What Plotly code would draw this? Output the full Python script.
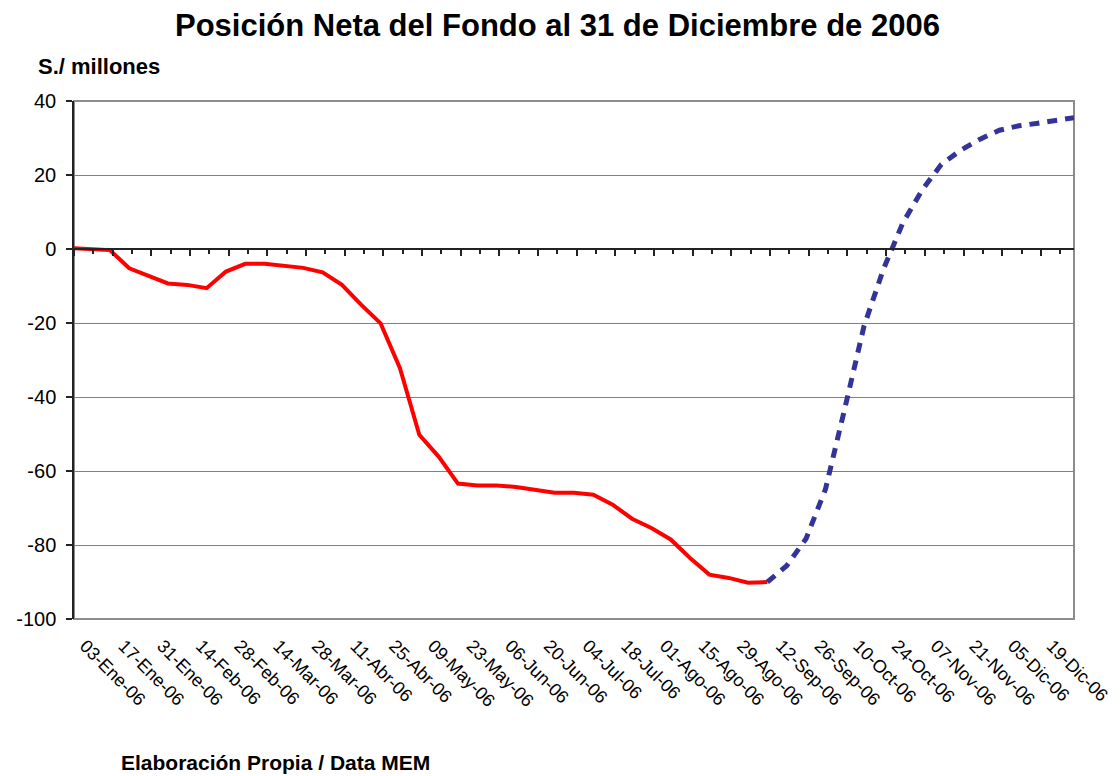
import plotly.graph_objects as go

# ---- data ----
real_dates = ["2006-01-03", "2006-01-09", "2006-01-16", "2006-01-23", "2006-01-30",
              "2006-02-06", "2006-02-13", "2006-02-20", "2006-02-27", "2006-03-06",
              "2006-03-13", "2006-03-20", "2006-03-27", "2006-04-03", "2006-04-10",
              "2006-04-17", "2006-04-24", "2006-05-01", "2006-05-08", "2006-05-15",
              "2006-05-22", "2006-05-29", "2006-06-05", "2006-06-12", "2006-06-19",
              "2006-06-26", "2006-07-03", "2006-07-10", "2006-07-17", "2006-07-24",
              "2006-07-31", "2006-08-07", "2006-08-14", "2006-08-21", "2006-08-28",
              "2006-09-04", "2006-09-11"]
real_values = [0.2, 0.0, -0.3, -5.2, -7.3, -9.3, -9.7, -10.6, -6.1, -4.0,
               -4.0, -4.5, -5.1, -6.3, -9.7, -15.1, -20.1, -32.2, -50.2, -56.1,
               -63.4, -63.9, -63.9, -64.3, -65.2, -65.9, -65.9, -66.4, -69.1, -72.9,
               -75.4, -78.5, -83.5, -88.0, -88.9, -90.2, -90.0]

proj_dates = ["2006-09-11", "2006-09-18", "2006-09-25", "2006-10-02", "2006-10-09",
              "2006-10-16", "2006-10-23", "2006-10-30", "2006-11-06", "2006-11-13",
              "2006-11-20", "2006-11-27", "2006-12-04", "2006-12-11", "2006-12-18",
              "2006-12-25", "2006-12-31"]
proj_values = [-90.0, -85.6, -78.3, -65.0, -43.2, -20.8, -5.5, 7.0, 15.9, 22.9,
               26.7, 29.7, 32.1, 33.3, 34.0, 34.7, 35.5]

tick_dates = ["2006-01-03", "2006-01-17", "2006-01-31", "2006-02-14", "2006-02-28",
              "2006-03-14", "2006-03-28", "2006-04-11", "2006-04-25", "2006-05-09",
              "2006-05-23", "2006-06-06", "2006-06-20", "2006-07-04", "2006-07-18",
              "2006-08-01", "2006-08-15", "2006-08-29", "2006-09-12", "2006-09-26",
              "2006-10-10", "2006-10-24", "2006-11-07", "2006-11-21", "2006-12-05",
              "2006-12-19"]
tick_labels = ["03-Ene-06", "17-Ene-06", "31-Ene-06", "14-Feb-06", "28-Feb-06",
               "14-Mar-06", "28-Mar-06", "11-Abr-06", "25-Abr-06", "09-May-06",
               "23-May-06", "06-Jun-06", "20-Jun-06", "04-Jul-06", "18-Jul-06",
               "01-Ago-06", "15-Ago-06", "29-Ago-06", "12-Sep-06", "26-Sep-06",
               "10-Oct-06", "24-Oct-06", "07-Nov-06", "21-Nov-06", "05-Dic-06",
               "19-Dic-06"]

y_tickvals = [40, 20, 0, -20, -40, -60, -80, -100]
y_ticktext = ["40", "20", "0", "-20", "-40", "-60", "-80", "-100"]

x_range = ["2006-01-03", "2006-12-31"]
y_range = [-100, 40]

FONT = "Arial, 'Liberation Sans', sans-serif"
OFF = 8  # page body margin offset
W, H = 1120 - OFF, 776 - OFF
L, T = 74 - OFF, 101 - OFF
R = W - (1074 - OFF)
B = H - (619 - OFF)
PW, PH = W - L - R, H - T - B


def px_x(x):
    return (x - OFF - L) / PW


def px_y(y):
    return (H - B - (y - OFF)) / PH


fig = go.Figure()
fig.add_trace(go.Scatter(x=real_dates, y=real_values, mode="lines",
                         line=dict(color="#FF0000", width=4), showlegend=False,
                         hoverinfo="skip"))
fig.add_trace(go.Scatter(x=proj_dates, y=proj_values, mode="lines",
                         line=dict(color="#333399", width=5, dash="10px,8px"),
                         showlegend=False, hoverinfo="skip"))
# carrier trace for the zero-line axis (no visible marks)
fig.add_trace(go.Scatter(x=x_range, y=[None, None], xaxis="x2", mode="lines",
                         showlegend=False, hoverinfo="skip"))

fig.update_layout(
    width=W, height=H,
    margin=dict(l=L, r=R, t=T, b=B, autoexpand=False),
    paper_bgcolor="white", plot_bgcolor="white",
    font=dict(family=FONT, color="black"),
    xaxis=dict(type="date", range=x_range, tickvals=tick_dates, ticktext=tick_labels,
               tickangle=45, ticks="", showgrid=False, showline=False, zeroline=False,
               automargin=False, ticklabelstandoff=12, ticklabelshift=11,
               ticklabeloverflow="allow",
               tickfont=dict(size=18, family=FONT, color="black")),
    xaxis2=dict(type="date", range=x_range, overlaying="x", anchor="free",
                position=(0 - y_range[0]) / (y_range[1] - y_range[0]),
                side="bottom", showticklabels=False, showgrid=False, zeroline=False,
                automargin=False,
                showline=True, linecolor="#222222", linewidth=2,
                ticks="outside", ticklen=6, tickwidth=1.5, tickcolor="#222222",
                tick0="2006-01-03", dtick=14 * 86400000,
                minor=dict(ticks="outside", ticklen=4, tickwidth=1.5, tickcolor="#222222",
                           tick0="2006-01-03", dtick=7 * 86400000, showgrid=False)),
    yaxis=dict(range=y_range, tickvals=y_tickvals, ticktext=y_ticktext,
               showgrid=True, gridcolor="#808080", gridwidth=1,
               zeroline=False, showline=True, linecolor="#222222", linewidth=1.5,
               ticks="outside", ticklen=6, tickwidth=1.5, tickcolor="#222222",
               ticklabelstandoff=6, automargin=False,
               tickfont=dict(size=20, family=FONT, color="black")),
    shapes=[dict(type="rect", xref="paper", yref="paper", x0=0, x1=1, y0=0, y1=1,
                 line=dict(color="#8c8c8c", width=2), layer="below")],
    annotations=[
        dict(text="<b>Posición Neta del Fondo al 31 de Diciembre de 2006</b>",
             xref="paper", yref="paper", x=px_x(557), y=px_y(25),
             xanchor="center", yanchor="middle", showarrow=False,
             font=dict(size=31, family=FONT, color="black")),
        dict(text="<b>S./ millones</b>", xref="paper", yref="paper",
             x=px_x(36), y=px_y(67), xanchor="left", yanchor="middle",
             showarrow=False, font=dict(size=22, family=FONT, color="black")),
        dict(text="<b>Elaboración Propia / Data MEM</b>", xref="paper", yref="paper",
             x=px_x(119), y=px_y(762), xanchor="left", yanchor="middle",
             showarrow=False, font=dict(size=21, family=FONT, color="black")),
    ],
)

fig.write_html("out.html")
